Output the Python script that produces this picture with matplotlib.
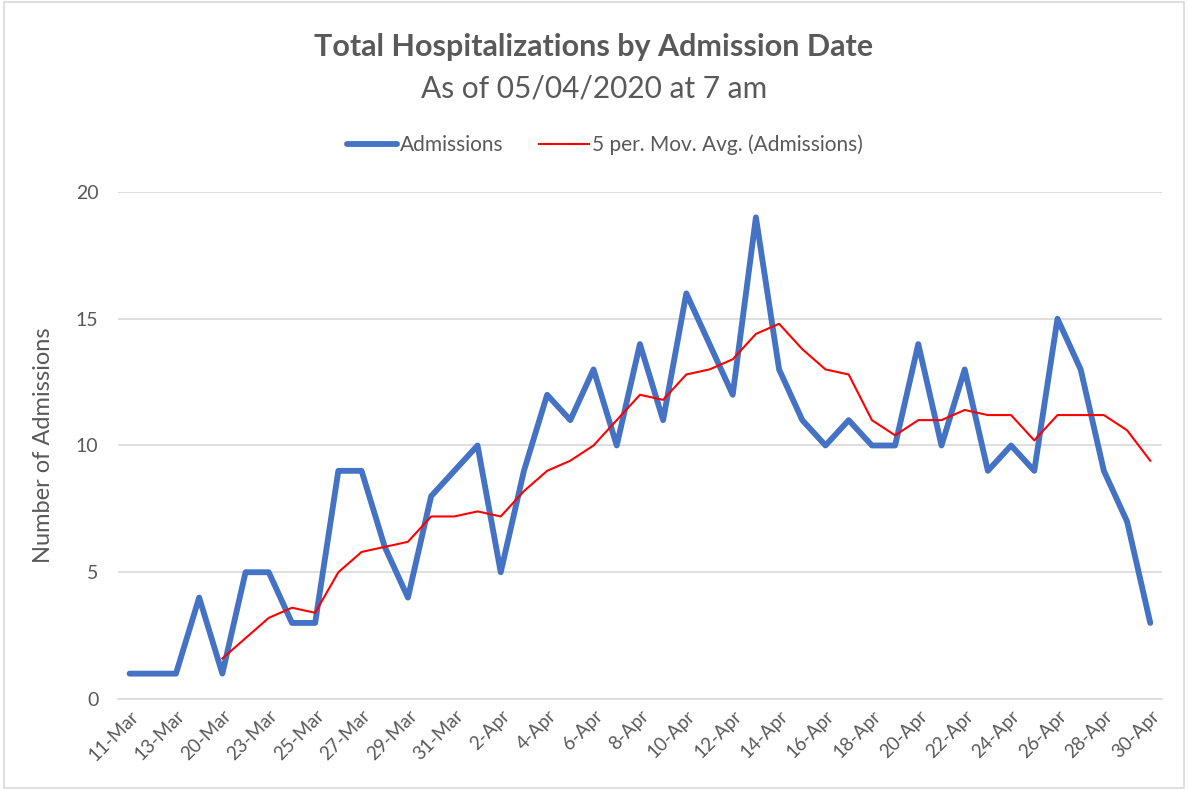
import matplotlib
matplotlib.use("Agg")
import matplotlib.pyplot as plt
from matplotlib.patches import Rectangle

dates = ["11-Mar", "12-Mar", "13-Mar", "18-Mar", "20-Mar", "22-Mar", "23-Mar", "24-Mar",
         "25-Mar", "26-Mar", "27-Mar", "28-Mar", "29-Mar", "30-Mar", "31-Mar"] + \
        [f"{d}-Apr" for d in range(1, 31)]
admissions = [1, 1, 1, 4, 1, 5, 5, 3, 3, 9, 9, 6, 4, 8, 9, 10, 5, 9, 12, 11, 13, 10, 14, 11,
              16, 14, 12, 19, 13, 11, 10, 11, 10, 10, 14, 10, 13, 9, 10, 9, 15, 13, 9, 7, 3]
# 5-period moving average values (start at 5th point)
mov_avg = [None, None, None, None, 1.6, 2.4, 3.2, 3.6, 3.4, 5.0, 5.8, 6.0, 6.2, 7.2, 7.2, 7.4,
           7.2, 8.2, 9.0, 9.4, 10.0, 11.0, 12.0, 11.8, 12.8, 13.0, 13.4, 14.4, 14.8, 13.8,
           13.0, 12.8, 11.0, 10.4, 11.0, 11.0, 11.4, 11.2, 11.2, 10.2, 11.2, 11.2, 11.2, 10.6, 9.4]
yticks = [0, 5, 10, 15, 20]

plt.rcParams['font.family'] = ['Lato', 'DejaVu Sans']
gray = "#595959"

fig = plt.figure(figsize=(11.88, 7.90), dpi=100)
ax = fig.add_axes([0.0993, 0.1152, 0.8787, 0.6418])

x = list(range(len(dates)))
ma_x = [i for i, v in zip(x, mov_avg) if v is not None]
ma_y = [v for v in mov_avg if v is not None]

ax.plot(x, admissions, color="#4472C4", lw=4.2, solid_joinstyle="round",
        solid_capstyle="round", label="Admissions", zorder=3)
ax.plot(ma_x, ma_y, color="#FF0000", lw=1.5, solid_joinstyle="round",
        label="5 per. Mov. Avg. (Admissions)", zorder=4)

ax.set_xlim(-0.5, len(dates) - 0.5)
ax.set_ylim(0, 20)
ax.set_yticks(yticks)
ax.set_xticks(x[::2])
ax.set_xticklabels(dates[::2], rotation=45, ha="right", rotation_mode="anchor",
                   fontsize=13.5, color=gray)
ax.tick_params(axis="y", labelsize=14, colors=gray, length=0, pad=14)
ax.tick_params(axis="x", length=0, pad=6)
ax.grid(axis="y", color="#d9d9d9", lw=1.2)
ax.set_axisbelow(True)
for s in ["top", "right", "left"]:
    ax.spines[s].set_visible(False)
ax.spines["bottom"].set_color("#d9d9d9")
ax.spines["bottom"].set_linewidth(1.2)

ax.set_ylabel("Number of Admissions", fontsize=17, color=gray, labelpad=16)

fig.text(0.5, 0.940, "Total Hospitalizations by Admission Date", ha="center", va="center",
         fontsize=22, fontweight="bold", color=gray)
fig.text(0.5, 0.888, "As of 05/04/2020 at 7 am", ha="center", va="center",
         fontsize=21.5, color=gray)

leg = fig.legend(loc="center", bbox_to_anchor=(0.509, 0.817), ncol=2, frameon=False,
                 fontsize=15, handlelength=2.4, handletextpad=0.15, columnspacing=1.7)
for t in leg.get_texts():
    t.set_color(gray)

fig.patches.append(Rectangle((0.003, 0.003), 0.994, 0.994, transform=fig.transFigure,
                             fill=False, edgecolor="#d9d9d9", lw=1.2))

fig.savefig("out.png", dpi=100, facecolor="white")
